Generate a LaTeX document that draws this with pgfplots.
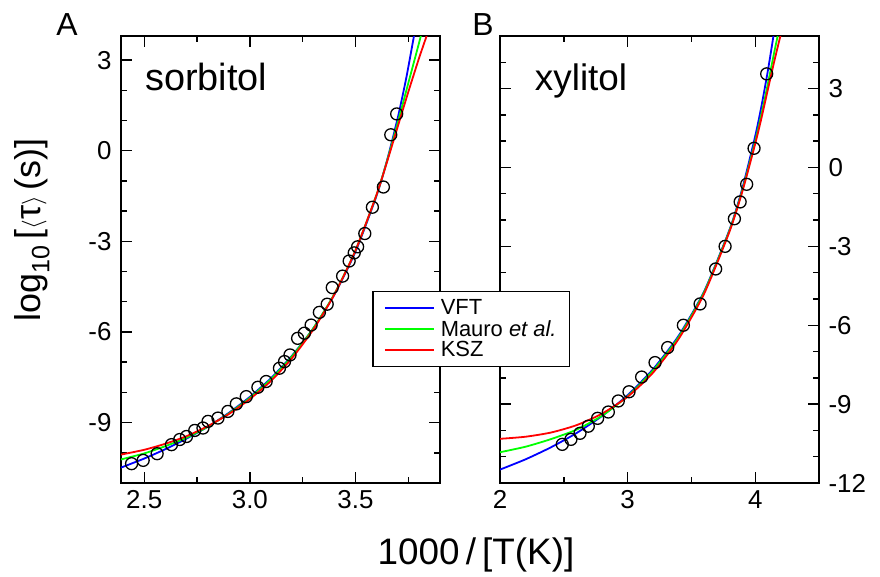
\documentclass[border=0pt]{standalone}
\usepackage{pgfplots}
\pgfplotsset{compat=1.18}
\usepackage{fontspec}
\setmainfont{Liberation Sans}

\pgfplotstableread{
x y
2.44 -10.36
2.495 -10.25
2.561 -10.03
2.629 -9.73
2.668 -9.56
2.70 -9.46
2.739 -9.26
2.778 -9.18
2.802 -8.96
2.849 -8.85
2.896 -8.63
2.936 -8.38
2.983 -8.14
3.038 -7.83
3.077 -7.64
3.14 -7.20
3.164 -6.98
3.19 -6.76
3.226 -6.21
3.258 -6.04
3.29 -5.77
3.329 -5.35
3.366 -5.08
3.39 -4.53
3.439 -4.15
3.47 -3.65
3.494 -3.38
3.51 -3.18
3.544 -2.74
3.58 -1.87
3.632 -1.20
3.667 0.53
3.695 1.22
}\sorbdata

\pgfplotstableread{
x y
2.488 -10.53
2.556 -10.34
2.627 -10.11
2.692 -9.84
2.765 -9.54
2.849 -9.30
2.927 -8.88
3.011 -8.53
3.11 -7.97
3.215 -7.42
3.314 -6.85
3.437 -6.00
3.568 -5.19
3.69 -3.86
3.764 -3.00
3.837 -1.95
3.882 -1.31
3.933 -0.64
3.991 0.73
4.09 3.56
}\xyldata

\pgfplotsset{
  panel/.style={
    scale only axis, width=319bp, height=447bp,
    axis line style={line width=1.6bp},
    every tick/.style={line width=1.4bp, black},
    major tick length=11bp, minor tick length=6bp,
    tick align=inside,
    xtick pos=both, ytick pos=both,
    xticklabel pos=lower,
    ticklabel style={font=\fontsize{26}{26}\selectfont},
    /pgf/number format/assume math mode=true,
    clip=true,
  },
  circ/.style={only marks, mark=o, mark size=6bp, black, line width=1.3bp, forget plot},
  fitline/.style={line width=1.8bp, no marks, smooth, tension=0.4, forget plot},
}

\begin{document}
\begin{tikzpicture}
\useasboundingbox (0,0) rectangle (880bp,-577bp);

\begin{axis}[panel, at={(121bp,-483bp)}, anchor=south west,
  xmin=2.39, xmax=3.9, ymin=-11, ymax=3.8,
  xtick={2.5,3.0,3.5}, xticklabels={2.5,3.0,3.5},
  minor xtick={2.75,3.25,3.75},
  ytick={-9,-6,-3,0,3}, minor ytick={-10,-8,-7,-5,-4,-2,-1,1,2},
  yticklabel pos=left,
  yticklabel style={xshift=-6bp},
  xticklabel style={yshift=-4bp},
]
\addplot[circ] table {\sorbdata};
\addplot[fitline, blue] coordinates {
(2.39,-10.49) (2.5,-10.19) (2.6,-9.88) (2.7,-9.53) (2.8,-9.14) (2.9,-8.68)
(3.0,-8.15) (3.1,-7.53) (3.2,-6.78) (3.3,-5.88) (3.4,-4.76) (3.5,-3.34)
(3.6,-1.48) (3.65,-0.30) (3.7,1.09) (3.74,2.40) (3.776,3.77) (3.79,4.3)};
\addplot[fitline, green] coordinates {
(2.39,-10.22) (2.5,-10.02) (2.6,-9.78) (2.7,-9.50) (2.8,-9.14) (2.9,-8.70)
(3.0,-8.18) (3.1,-7.56) (3.2,-6.80) (3.3,-5.88) (3.4,-4.74) (3.5,-3.30)
(3.6,-1.45) (3.65,-0.32) (3.7,0.93) (3.75,2.24) (3.8,3.55) (3.82,4.1)};
\addplot[fitline, red] coordinates {
(2.39,-10.06) (2.5,-9.90) (2.6,-9.70) (2.7,-9.45) (2.8,-9.12) (2.9,-8.72)
(3.0,-8.22) (3.1,-7.62) (3.2,-6.86) (3.3,-5.92) (3.4,-4.76) (3.5,-3.30)
(3.6,-1.45) (3.65,-0.35) (3.7,0.80) (3.75,1.95) (3.8,3.05) (3.835,3.77) (3.85,4.1)};
\node[anchor=base west, inner sep=0pt, font=\fontsize{38}{38}\selectfont] at (rel axis cs:0.075,0.877) {sorbitol};
\end{axis}

\begin{axis}[panel, at={(500bp,-483bp)}, anchor=south west,
  xmin=2, xmax=4.5, ymin=-12, ymax=5,
  xtick={2,3,4}, minor xtick={2.5,3.5},
  ytick={-12,-9,-6,-3,0,3}, minor ytick={-11,-10,-8,-7,-5,-4,-2,-1,1,2,4},
  yticklabel pos=right,
  yticklabel style={xshift=6bp},
  xticklabel style={yshift=-4bp},
  legend style={at={(rel axis cs:-0.4,0.4295)}, anchor=north west,
    fill=white, draw=black, line width=1.2bp,
    font=\fontsize{22}{22}\selectfont,
    inner xsep=11bp, inner ysep=6bp, row sep=0bp,
    /tikz/column 1/.style={column sep=4bp},
    cells={anchor=west}},
  legend image code/.code={\draw[#1] (0bp,0bp) -- (49bp,0bp);},
]
\addplot[circ] table {\xyldata};
\addplot[fitline, blue] coordinates {
(2.0,-11.49) (2.2,-11.10) (2.4,-10.64) (2.6,-10.10) (2.8,-9.45) (3.0,-8.66)
(3.2,-7.67) (3.4,-6.40) (3.6,-4.71) (3.8,-2.35) (3.9,-0.78) (4.0,1.19)
(4.05,2.36) (4.1,3.70) (4.143,5.0) (4.16,5.6)};
\addplot[fitline, green] coordinates {
(2.0,-10.83) (2.2,-10.62) (2.4,-10.33) (2.6,-9.97) (2.8,-9.44) (3.0,-8.70)
(3.2,-7.72) (3.4,-6.45) (3.6,-4.74) (3.8,-2.38) (3.9,-0.85) (4.0,1.00)
(4.05,2.05) (4.1,3.20) (4.15,4.40) (4.176,5.0) (4.19,5.4)};
\addplot[fitline, red] coordinates {
(2.0,-10.32) (2.2,-10.24) (2.4,-10.08) (2.6,-9.80) (2.8,-9.36) (3.0,-8.72)
(3.2,-7.80) (3.4,-6.52) (3.6,-4.80) (3.8,-2.42) (3.9,-0.90) (4.0,0.90)
(4.05,1.90) (4.1,2.98) (4.15,4.05) (4.2,5.05) (4.22,5.4)};
\addlegendimage{blue, line width=1.8bp}
\addlegendentry{VFT}
\addlegendimage{green, line width=1.8bp}
\addlegendentry{Mauro \textit{et al.}}
\addlegendimage{red, line width=1.8bp}
\addlegendentry{KSZ}
\node[anchor=base west, inner sep=0pt, font=\fontsize{37}{37}\selectfont] at (rel axis cs:0.109,0.877) {xylitol};
\end{axis}

\node[font=\fontsize{32}{32}\selectfont] at (67bp,-25bp) {A};
\node[font=\fontsize{32}{32}\selectfont] at (483bp,-25bp) {B};
\node[rotate=90, font=\fontsize{36}{36}\selectfont] at (32bp,-230bp) {log\textsubscript{10}\,[$\langle$τ$\rangle$\,(s)]};
\node[font=\fontsize{37}{37}\selectfont] at (476bp,-555bp) {1000\,/\,[T(K)]};
\end{tikzpicture}
\end{document}
